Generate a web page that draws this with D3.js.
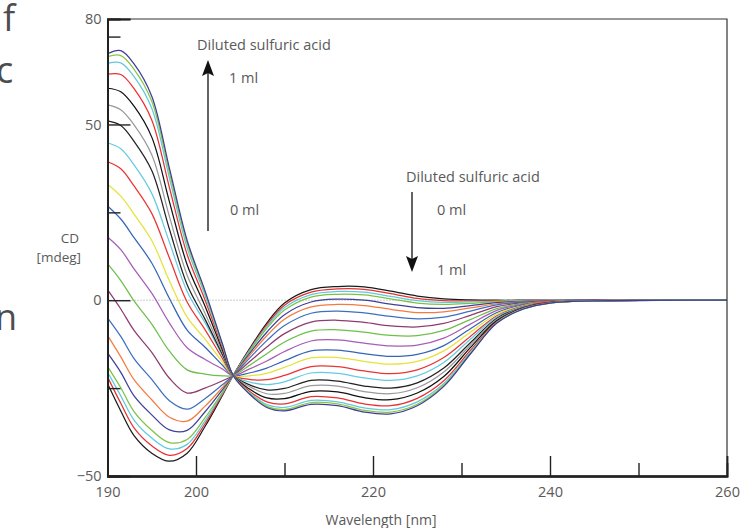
<!DOCTYPE html>
<html><head><meta charset="utf-8">
<script src="https://cdn.jsdelivr.net/npm/d3@7"></script>
<style>
html,body{margin:0;padding:0;background:#fff;}
svg{display:block;font-family:"Open Sans",Lato,sans-serif;}
</style></head>
<body><svg id="c" width="740" height="528"></svg>
<script>
// ---- data ----
const wavelengths = [190,191.5,193,195,197,199,201,203,204.2,206,208,210,213,216,219,222,225,228,231,234,237,240,245,260];
const volumes = ["0 ml","0.05 ml","0.10 ml","0.15 ml","0.20 ml","0.25 ml","0.30 ml","0.35 ml","0.40 ml","0.45 ml","0.50 ml","0.55 ml","0.60 ml","0.65 ml","0.70 ml","0.75 ml","0.80 ml","0.85 ml","0.90 ml","0.95 ml","1 ml"];
const seriesColors = ["#1a1a1a","#e8312f","#5ccbe0","#7cc242","#3f3f9a","#f47b40","#3d6fc0","#8e3b6e","#6dbf4b","#a65db6","#3565b5","#e6e23a","#ea3434","#64cbe0","#222222","#9a9a9a","#111111","#ec3030","#62c8dc","#8cc63f","#3d3d9b"];
const cd00 = [-23.7,-31.5,-38.5,-43.5,-45.8,-43.5,-36,-27,-21.4,-14,-6.5,-0.8,3,3.9,3.8,2.6,1.2,0.4,0.1,0,0,0,0,0];
const cd01 = [-21.8,-29.3,-36.3,-41.4,-44.1,-42.2,-35.2,-26.7,-21.4,-14.3,-7,-1.4,2.3,3.2,3.1,1.9,0.5,-0.1,-0.2,-0.1,-0.1,0,0,0];
const cd02 = [-20.4,-27.2,-34.1,-39.2,-42.3,-41,-34.4,-26.4,-21.4,-14.5,-7.5,-2.1,1.6,2.5,2.3,1.1,-0.1,-0.6,-0.5,-0.3,-0.1,0,0,0];
const cd03 = [-18.8,-24.9,-31.7,-37,-40.5,-39.6,-33.5,-26.1,-21.4,-14.8,-8,-2.8,0.9,1.7,1.5,0.4,-0.8,-1.2,-0.9,-0.4,-0.2,-0.1,0,0];
const cd04 = [-15,-20.5,-27.2,-32.6,-36.9,-37,-31.8,-25.4,-21.4,-15.3,-9.1,-4.1,-0.5,0.3,0,-1.1,-2.1,-2.3,-1.5,-0.7,-0.3,-0.1,0,0];
const cd05 = [-10,-16.1,-22.6,-28.3,-33.3,-34.4,-30.2,-24.8,-21.4,-15.9,-10.1,-5.4,-1.9,-1.2,-1.5,-2.6,-3.5,-3.3,-2.2,-1,-0.4,-0.1,0,0];
const cd06 = [-5,-10.3,-16.6,-22.5,-28.6,-31,-28,-24,-21.4,-16.6,-11.5,-7.2,-3.7,-3.1,-3.6,-4.6,-5.3,-4.8,-3.1,-1.3,-0.5,-0.2,0,0];
const cd07 = [3,-2.5,-8.6,-14.8,-22.2,-26.4,-25,-22.9,-21.4,-17.6,-13.3,-9.5,-6.2,-5.7,-6.3,-7.3,-7.6,-6.6,-4.3,-1.8,-0.7,-0.2,0,0];
const cd08 = [10.4,5.6,-0.2,-6.8,-14.5,-19.8,-21,-21.5,-21.4,-18.6,-15.2,-11.9,-8.8,-8.4,-9.1,-10,-10.1,-8.6,-5.5,-2.4,-0.9,-0.3,-0.1,0];
const cd09 = [18,14.4,8.9,2,-6.5,-13.5,-16.8,-19.6,-21.4,-19.6,-17.3,-14.6,-11.6,-11.3,-12.2,-13,-12.8,-10.8,-6.8,-2.9,-1.1,-0.4,-0.1,0];
const cd10 = [26.8,23.1,17.8,10.6,0.5,-8.5,-13.3,-18.5,-21.4,-20.7,-19.3,-17.2,-14.4,-14.2,-15.2,-16,-15.4,-12.9,-8.1,-3.5,-1.3,-0.4,-0.1,0];
const cd11 = [33,29.6,24.5,17,5.5,-4.8,-11,-17.6,-21.4,-21.5,-20.8,-19.1,-16.4,-16.3,-17.4,-18.2,-17.4,-14.4,-9.1,-3.9,-1.5,-0.5,-0.1,0];
const cd12 = [39.4,37.4,32.5,24.7,12,-0.5,-8.3,-16.6,-21.4,-22.5,-22.6,-21.4,-18.9,-18.9,-20.1,-20.9,-19.8,-16.3,-10.3,-4.4,-1.7,-0.5,-0.1,0];
const cd13 = [44.8,43.1,38.5,30.4,16.5,2.5,-6.3,-15.8,-21.4,-23.2,-24,-23.2,-20.7,-20.8,-22.1,-22.8,-21.5,-17.7,-11.1,-4.7,-1.8,-0.6,-0.1,0];
const cd14 = [51,49.7,45.2,36.9,20.2,4.4,-5.3,-15.5,-21.4,-24,-25.5,-25.1,-22.8,-23,-24.4,-25,-23.5,-19.3,-12.1,-5.1,-2,-0.6,-0.2,0];
const cd15 = [55.6,54.2,49.9,41.4,23.8,7.1,-3.6,-14.9,-21.4,-24.5,-26.6,-26.5,-24.3,-24.4,-26,-26.6,-24.9,-20.4,-12.8,-5.4,-2.1,-0.7,-0.2,0];
const cd16 = [60.3,59.3,55.2,46.4,28,10.1,-1.6,-14.2,-21.4,-25.2,-27.8,-28,-25.9,-26.1,-27.7,-28.3,-26.4,-21.7,-13.5,-5.8,-2.2,-0.7,-0.2,0];
const cd17 = [64.3,64.2,60.2,51.3,32,13,0.2,-13.5,-21.4,-25.8,-28.9,-29.5,-27.4,-27.8,-29.5,-30,-27.9,-22.9,-14.3,-6.1,-2.3,-0.7,-0.2,0];
const cd18 = [67.4,67.5,63.6,54.6,34.7,14.9,1.5,-13,-21.4,-26.2,-29.7,-30.5,-28.5,-28.9,-30.6,-31.1,-28.9,-23.7,-14.8,-6.3,-2.4,-0.8,-0.2,0];
const cd19 = [69.3,69.6,65.7,56.6,36.3,16.2,2.3,-12.7,-21.4,-26.4,-30.2,-31.1,-29.1,-29.5,-31.3,-31.8,-29.6,-24.2,-15.1,-6.4,-2.5,-0.8,-0.2,0];
const cd20 = [70.1,71,67.2,58,37.5,17,2.8,-12.5,-21.4,-26.6,-30.5,-31.5,-29.6,-30,-31.8,-32.3,-30,-24.5,-15.3,-6.5,-2.5,-0.8,-0.2,0];
const cdSeries = [cd00,cd01,cd02,cd03,cd04,cd05,cd06,cd07,cd08,cd09,cd10,cd11,cd12,cd13,cd14,cd15,cd16,cd17,cd18,cd19,cd20];
const xTickLabels = [190,200,220,240,260];
const xMajorTicks = [200,220,240];
const xMinorTicks = [210,230,250];
const yTickLabels = [80,50,0,-50];
const yMajorTicks = [80,50,0];
const yMinorTicks = [75,25,-25];

// ---- drawing ----
const svg = d3.select("#c");
const L = 107.5, R = 727, T = 19, B = 476;
const x = d3.scaleLinear().domain([190,260]).range([L,R]);
const y = d3.scaleLinear().domain([-50,80]).range([B,T]);
const txt = "#5a5a5a";

// margin text fragments (cut body text at left edge)
const frag = svg.append("g").attr("fill","#4d4d4d").style("font-size","36px");
frag.append("text").attr("x",3).attr("y",31).text("f");
frag.append("text").attr("x",-4).attr("y",83).text("c");
frag.append("text").attr("x",-5).attr("y",330).text("n");
frag.append("text").attr("x",-3).attr("y",548).text("s");

// zero reference line
svg.append("line").attr("x1",L).attr("x2",R).attr("y1",y(0)).attr("y2",y(0))
  .attr("stroke","#999").attr("stroke-width",1).attr("stroke-dasharray","1,2");

// curves
const line = d3.line().x((d,i)=>x(wavelengths[i])).y(d=>y(d)).curve(d3.curveCatmullRom.alpha(0.5));
svg.append("g").selectAll("path").data(cdSeries).join("path")
  .attr("d",d=>line(d)).attr("fill","none")
  .attr("stroke",(d,i)=>seriesColors[i]).attr("stroke-width",1.25);

// frame top/right
svg.append("path").attr("d",`M${L},${T}H${R}V${B}`).attr("fill","none").attr("stroke","#333").attr("stroke-width",1.2);

// axes
const gx = svg.append("g").attr("transform",`translate(0,${B})`);
gx.call(d3.axisBottom(x).tickValues(xTickLabels).tickSize(0).tickPadding(11).tickFormat(d3.format("d")));
const gxM = svg.append("g").attr("transform",`translate(0,${B})`).call(d3.axisBottom(x).tickValues(xMajorTicks).tickSize(-20).tickFormat(""));
const gxm = svg.append("g").attr("transform",`translate(0,${B})`).call(d3.axisBottom(x).tickValues(xMinorTicks).tickSize(-13).tickFormat(""));
const gy = svg.append("g").attr("transform",`translate(${L},0)`);
gy.call(d3.axisLeft(y).tickValues(yTickLabels).tickSize(0).tickPadding(6).tickFormat(d3.format("d")));
const gyM = svg.append("g").attr("transform",`translate(${L},0)`).call(d3.axisLeft(y).tickValues(yMajorTicks).tickSize(-23).tickFormat(""));
const gym = svg.append("g").attr("transform",`translate(${L},0)`).call(d3.axisLeft(y).tickValues(yMinorTicks).tickSize(-13).tickFormat(""));
[gx,gxM,gxm,gy,gyM,gym].forEach(g=>{
  g.select(".domain").attr("stroke","#222").attr("stroke-width",1.8);
  g.selectAll(".tick line").attr("stroke","#222").attr("stroke-width",1.4);
  g.selectAll("text").attr("fill",txt).style("font-size","14.5px").style("font-family","'Open Sans', sans-serif");
});

// axis titles
svg.append("text").attr("x",381).attr("y",525).attr("text-anchor","middle").attr("fill",txt).style("font-size","14px").text("Wavelength [nm]");
svg.append("text").attr("x",79).attr("y",243).attr("text-anchor","end").attr("fill",txt).style("font-size","13.5px").text("CD");
svg.append("text").attr("x",81).attr("y",262).attr("text-anchor","end").attr("fill",txt).style("font-size","13.5px").text("[mdeg]");

// annotations
const ann = svg.append("g").attr("fill",txt).style("font-size","14.5px");
ann.append("text").attr("x",197).attr("y",50).text("Diluted sulfuric acid");
ann.append("text").attr("x",229).attr("y",83).text("1 ml");
ann.append("text").attr("x",230).attr("y",215).text("0 ml");
ann.append("text").attr("x",406).attr("y",182).text("Diluted sulfuric acid");
ann.append("text").attr("x",437).attr("y",215).text("0 ml");
ann.append("text").attr("x",437).attr("y",275).text("1 ml");
// arrows
svg.append("line").attr("x1",208).attr("x2",208).attr("y1",231).attr("y2",70).attr("stroke","#222").attr("stroke-width",1.4);
svg.append("path").attr("d","M208,60 L202,76 L208,73 L214,76 Z").attr("fill","#111");
svg.append("line").attr("x1",412).attr("x2",412).attr("y1",192).attr("y2",262).attr("stroke","#222").attr("stroke-width",1.4);
svg.append("path").attr("d","M412,272 L406,256 L412,259 L418,256 Z").attr("fill","#111");
</script></body></html>
